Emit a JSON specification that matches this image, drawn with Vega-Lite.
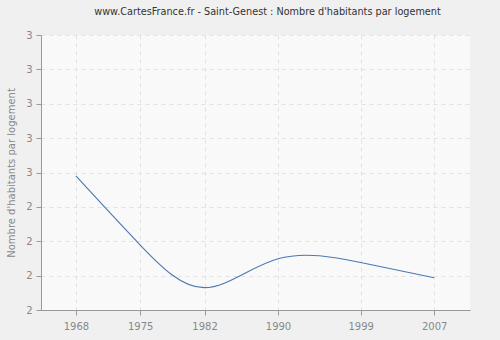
{
  "$schema": "https://vega.github.io/schema/vega-lite/v6.json",
  "width": 429,
  "height": 275,
  "autosize": {"type": "none"},
  "padding": {"left": 41, "top": 35, "right": 30, "bottom": 30},
  "background": "#f0f0f0",
  "title": {
    "text": "www.CartesFrance.fr - Saint-Genest : Nombre d'habitants par logement",
    "font": "DejaVu Sans",
    "fontSize": 9.7,
    "fontWeight": "normal",
    "color": "#333333",
    "anchor": "middle",
    "frame": "group",
    "dx": 12,
    "offset": 13
  },
  "config": {
    "view": {"fill": "#f9f9f9", "stroke": null},
    "axis": {
      "labelFont": "DejaVu Sans",
      "labelFontSize": 10,
      "labelColor": "#888888",
      "titleFont": "DejaVu Sans",
      "titleFontSize": 10,
      "titleColor": "#888888",
      "titleFontWeight": "normal",
      "domainColor": "#999999",
      "tickColor": "#999999",
      "gridColor": "#e2e2e2",
      "gridDash": [4, 4]
    }
  },
  "data": {
    "values": [
      {"year": 1968, "value": 2.49},
      {"year": 1975, "value": 2.289},
      {"year": 1982, "value": 2.165},
      {"year": 1990, "value": 2.249},
      {"year": 1999, "value": 2.238},
      {"year": 2007, "value": 2.194}
    ]
  },
  "mark": {"type": "line", "interpolate": "natural", "color": "#4a78b0", "strokeWidth": 1.1},
  "encoding": {
    "x": {
      "field": "year",
      "type": "quantitative",
      "scale": {"domain": [1964.2, 2010.9], "nice": false, "zero": false},
      "axis": {"values": [1968, 1975, 1982, 1990, 1999, 2007], "labelExpr": "format(datum.value, '.0f')", "title": null, "labelPadding": 6, "tickSize": 5}
    },
    "y": {
      "field": "value",
      "type": "quantitative",
      "scale": {"domain": [2.1, 2.9], "nice": false, "zero": false},
      "axis": {"values": [2.1, 2.2, 2.3, 2.4, 2.5, 2.6, 2.7, 2.8, 2.9], "labelExpr": "format(datum.value, '.0f')", "labelOverlap": false, "title": "Nombre d'habitants par logement", "titlePadding": 9, "tickSize": 5, "labelPadding": 4}
    }
  }
}
